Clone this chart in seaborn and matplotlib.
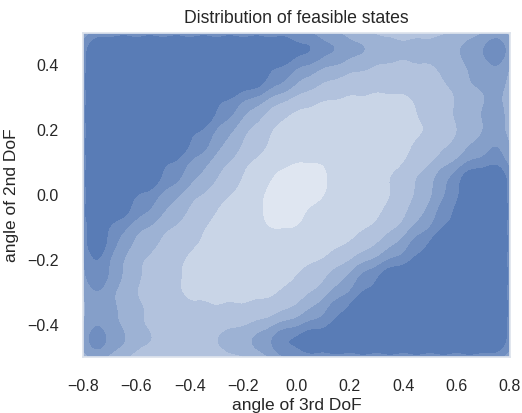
import matplotlib
matplotlib.use("Agg")
import numpy as np
import pandas as pd
import seaborn as sns
import matplotlib.pyplot as plt
from matplotlib.colors import ListedColormap, BoundaryNorm
from matplotlib.contour import ContourSet
from seaborn._statistics import KDE

# ---- data (band level 0 = lightest, 6 = darkest) ----
x_centers = [-0.75, -0.65, -0.55, -0.45, -0.35, -0.25, -0.15, -0.05,
             0.05, 0.15, 0.25, 0.35, 0.45, 0.55, 0.65, 0.75]
y_centers = [0.45, 0.35, 0.25, 0.15, 0.05, -0.05, -0.15, -0.25, -0.35, -0.45]
density_level = [
    [6.8, 6.8, 6.8, 6.8, 6.8, 6.8, 6.8, 6.8, 6.0, 4.8, 3.8, 3, 3, 3.2, 4, 5.8],
    [6.8, 6.8, 6.8, 6.8, 6.8, 6.8, 6.2, 4.4, 2.7, 2, 1.8, 1.7, 1.8, 2.2, 3.3, 4],
    [6.8, 6.8, 6.8, 6.8, 6.4, 4.4, 2.5, 1.2, 1, 1, 1, 1, 1.3, 2.1, 3.1, 4],
    [6.8, 6.8, 6.8, 6.3, 4.6, 2.9, 1.7, 1.1, 0.9, 0.8, 1, 1, 1.4, 2, 3, 4.5],
    [6.8, 6.8, 6.2, 4.5, 3.0, 1.9, 0.8, 0.1, 0.0, 0.6, 0.9, 1.4, 2.4, 4.1, 6.5, 6.8],
    [6.8, 5.8, 4.2, 2.8, 1.7, 1.1, 0.5, 0.0, 0.5, 0.9, 1.1, 1.4, 2.7, 4.6, 6.8, 6.8],
    [6.6, 3.6, 2.5, 1.9, 1.3, 1, 0.8, 0.8, 0.9, 1.1, 1.6, 2.8, 4.8, 6.6, 6.8, 6.8],
    [5.6, 3.1, 2.1, 1.4, 1.1, 1, 1, 1.2, 1.7, 2.7, 4.7, 6.4, 6.8, 6.8, 6.8, 6.8],
    [4.1, 3.1, 2.2, 1.7, 1.5, 1.45, 1.5, 1.8, 3.0, 5.0, 6.6, 6.8, 6.8, 6.8, 6.8, 6.8],
    [5.6, 3.6, 2.5, 2.3, 2.4, 3.1, 3.9, 6.0, 6.8, 6.8, 6.8, 6.8, 6.8, 6.8, 6.8, 6.8],
]
x_ticks = [-0.8, -0.6, -0.4, -0.2, 0.0, 0.2, 0.4, 0.6, 0.8]
y_ticks = [-0.4, -0.2, 0.0, 0.2, 0.4]
title = "Distribution of feasible states"
x_label = "angle of 3rd DoF"
y_label = "angle of 2nd DoF"

# ---- styling / estimation settings ----
band_colors = ["#dfe6f1", "#c9d5e7", "#b2c2dd", "#9db2d4",
               "#859fc9", "#708ec0", "#597cb6"]
level_offset = 1.0          # weight = level + offset
cell_area = 0.01
kernel_sd = 0.05
edge_reflect = 0.6          # partial boundary reflection
far = 20.0                  # distance of invisible balancing anchors
x_lo, x_hi, y_lo, y_hi = -0.8, 0.8, -0.5, 0.5
clip_box = ((x_lo, x_hi), (y_lo, y_hi))

sns.set_theme(style="whitegrid")
plt.rcParams["font.family"] = ["Liberation Sans", "DejaVu Sans"]
text_color = "#262626"

records = []
for yv, row in zip(y_centers, density_level):
    for xv, lv in zip(x_centers, row):
        w = lv + level_offset
        records.append((xv, yv, w))
        xm = [xv]
        ym = [yv]
        if xv == x_centers[0]:
            xm.append(2 * x_lo - xv)
        if xv == x_centers[-1]:
            xm.append(2 * x_hi - xv)
        if yv == y_centers[0]:
            ym.append(2 * y_hi - yv)
        if yv == y_centers[-1]:
            ym.append(2 * y_lo - yv)
        for i, xr in enumerate(xm):
            for j, yr in enumerate(ym):
                if i == 0 and j == 0:
                    continue
                records.append((xr, yr, w * edge_reflect ** ((i > 0) + (j > 0))))
df = pd.DataFrame(records, columns=["x", "y", "w"])

# balance the weighted covariance (far outside the view) so the
# Gaussian kernel is round and has the same width in x and y
W = df["w"].sum()
mx = (df["x"] * df["w"]).sum() / W
my = (df["y"] * df["w"]).sum() / W
sxx = ((df["x"] - mx) ** 2 * df["w"]).sum()
syy = ((df["y"] - my) ** 2 * df["w"]).sum()
sxy = ((df["x"] - mx) * (df["y"] - my) * df["w"]).sum()
anchors = []
m = abs(sxy) / (2 * far ** 2)
sgn = -1.0 if sxy > 0 else 1.0
anchors += [(mx + far, my + sgn * far, m), (mx - far, my - sgn * far, m)]
sxx += 2 * m * far ** 2
syy += 2 * m * far ** 2
if syy > sxx:
    n = (syy - sxx) / (2 * far ** 2)
    anchors += [(mx + far, my, n), (mx - far, my, n)]
else:
    n = (sxx - syy) / (2 * far ** 2)
    anchors += [(mx, my + far, n), (mx, my - far, n)]
df = pd.concat([df, pd.DataFrame(anchors, columns=["x", "y", "w"])],
               ignore_index=True)

cov = np.cov(np.vstack([df["x"], df["y"]]), aweights=df["w"])
bw = kernel_sd / np.sqrt(cov[1, 1])
wsum = df["w"].sum()

kde = KDE(bw_method=bw, gridsize=200, cut=3, clip=clip_box)
dens, _ = kde(df["x"], df["y"], weights=df["w"])
dens = np.asarray(dens)
props = [0.0]
for k in range(6):
    t = (k + 0.5 + level_offset) / (wsum * cell_area)
    props.append(float(dens[dens < t].sum() / dens.sum()))
props.append(1.0)

band_cmap = ListedColormap(band_colors)

fig = plt.figure(figsize=(5.22, 4.13), dpi=100)
ax = fig.add_axes([0.159, 0.1356, 0.818, 0.7845])
sns.kdeplot(data=df, x="x", y="y", weights="w", fill=True,
            levels=props, cmap=band_cmap, bw_method=bw,
            clip=clip_box, gridsize=200, ax=ax)

for coll in ax.collections:
    if isinstance(coll, ContourSet):
        coll.set_cmap(band_cmap)
        coll.set_norm(BoundaryNorm(coll.levels, len(band_colors)))

ax.set_xlim(x_lo, x_hi)
ax.set_ylim(y_lo, y_hi)
ax.set_xticks(x_ticks)
ax.set_yticks(y_ticks)
ax.tick_params(axis="x", labelsize=11.5, pad=10, colors=text_color)
ax.tick_params(axis="y", labelsize=11.5, pad=11.5, colors=text_color)
ax.set_xlabel(x_label, fontsize=12.5, color=text_color, labelpad=3)
ax.set_ylabel(y_label, fontsize=12.5, color=text_color, labelpad=6)
ax.set_title(title, fontsize=12.7, color=text_color, pad=7)
for s in ax.spines.values():
    s.set_color("#dde3ec")

fig.savefig("out.png", dpi=100)
